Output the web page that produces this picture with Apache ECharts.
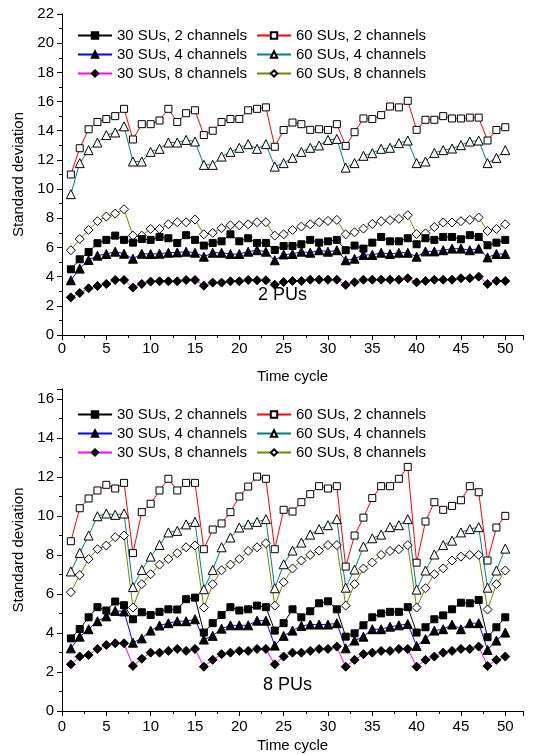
<!DOCTYPE html>
<html>
<head>
<meta charset="utf-8">
<script src="https://cdn.jsdelivr.net/npm/echarts@6/dist/echarts.min.js"></script>
<style>
  html, body { margin: 0; padding: 0; background: #fff; }
  #chart { width: 534px; height: 754px; }
</style>
</head>
<body>
<div id="chart"></div>
<script>
// time cycles on the x axis
const cycles = [1, 2, 3, 4, 5, 6, 7, 8, 9, 10, 11, 12, 13, 14, 15, 16, 17, 18, 19, 20,
  21, 22, 23, 24, 25, 26, 27, 28, 29, 30, 31, 32, 33, 34, 35, 36, 37, 38, 39, 40,
  41, 42, 43, 44, 45, 46, 47, 48, 49, 50]

// 2 PUs (upper panel)
const su30ch2_2pu = [4.5, 5.19, 5.69, 6.29, 6.52, 6.81, 6.52, 6.33, 6.58, 6.52,
  6.72, 6.63, 6.31, 6.84, 6.52, 6.13, 6.31, 6.42, 6.9, 6.42,
  6.63, 6.31, 6.31, 5.83, 6.1, 6.1, 6.22, 6.52, 6.33, 6.42,
  6.52, 5.81, 6.13, 5.92, 6.33, 6.72, 6.42, 6.42, 6.63, 6.22,
  6.63, 6.52, 6.72, 6.72, 6.56, 6.84, 6.72, 6.15, 6.33, 6.52]
const su30ch4_2pu = [3.75, 4.55, 5.14, 5.44, 5.55, 5.71, 5.57, 5.23, 5.57, 5.55,
  5.57, 5.64, 5.66, 5.71, 5.64, 5.37, 5.64, 5.64, 5.55, 5.55,
  5.71, 5.81, 5.71, 5.12, 5.52, 5.55, 5.71, 5.64, 5.81, 5.71,
  5.81, 5.12, 5.23, 5.49, 5.49, 5.64, 5.55, 5.64, 5.64, 5.37,
  5.73, 5.73, 5.81, 5.92, 5.92, 5.81, 5.92, 5.32, 5.55, 5.55]
const su30ch8_2pu = [2.58, 2.88, 3.2, 3.36, 3.5, 3.77, 3.77, 3.25, 3.5, 3.66,
  3.68, 3.68, 3.68, 3.77, 3.77, 3.38, 3.59, 3.59, 3.68, 3.68,
  3.77, 3.75, 3.75, 3.45, 3.63, 3.7, 3.7, 3.79, 3.79, 3.79,
  3.79, 3.43, 3.61, 3.79, 3.79, 3.79, 3.79, 3.79, 3.89, 3.61,
  3.7, 3.79, 3.79, 3.79, 3.89, 3.89, 4.0, 3.5, 3.7, 3.7]
const su60ch2_2pu = [11.0, 12.8, 14.1, 14.6, 14.8, 15.0, 15.5, 13.4, 14.45, 14.45,
  14.7, 15.5, 14.6, 15.2, 15.4, 13.7, 14.0, 14.6, 14.8, 14.8,
  15.4, 15.5, 15.6, 12.9, 14.05, 14.56, 14.45, 14.06, 14.1, 14.06,
  14.45, 12.96, 13.9, 14.84, 14.8, 15.07, 15.66, 15.6, 16.05, 14.06,
  14.75, 14.75, 15.0, 14.84, 14.84, 14.9, 14.9, 13.33, 14.05, 14.24]
const su60ch4_2pu = [9.65, 11.78, 12.67, 13.19, 13.7, 13.88, 14.3, 11.89, 11.89, 12.55,
  12.76, 13.19, 13.19, 13.37, 13.26, 11.66, 11.66, 12.23, 12.55, 12.83,
  13.08, 12.76, 13.08, 11.54, 11.78, 12.14, 12.55, 12.83, 12.99, 13.37,
  13.44, 11.47, 11.78, 12.28, 12.46, 12.76, 12.83, 13.15, 13.33, 11.78,
  11.89, 12.48, 12.67, 12.78, 13.01, 13.26, 13.33, 11.78, 12.14, 12.67]
const su60ch8_2pu = [5.81, 6.58, 7.2, 7.8, 8.12, 8.32, 8.62, 6.81, 6.81, 7.27,
  7.27, 7.59, 7.73, 7.73, 7.91, 6.9, 7.0, 7.32, 7.52, 7.52,
  7.59, 7.73, 7.73, 6.81, 6.9, 7.2, 7.43, 7.59, 7.73, 7.82,
  7.89, 6.9, 7.04, 7.29, 7.61, 7.8, 7.87, 7.96, 8.21, 6.92,
  6.97, 7.4, 7.71, 7.71, 7.8, 7.89, 8.05, 7.13, 7.27, 7.59]

// 8 PUs (lower panel)
const su30ch2_8pu = [3.72, 4.2, 4.8, 5.32, 5.15, 5.61, 5.42, 4.7, 5.06, 4.92,
  5.08, 5.21, 5.2, 5.73, 5.81, 4.02, 4.5, 4.92, 5.32, 5.15,
  5.21, 5.4, 5.32, 4.12, 4.5, 5.21, 4.8, 5.11, 5.52, 5.62,
  5.21, 3.81, 3.98, 4.39, 4.8, 5.0, 5.08, 5.08, 5.32, 4.02,
  4.29, 4.7, 4.9, 5.21, 5.55, 5.52, 5.69, 3.78, 4.29, 4.8]
const su30ch4_8pu = [3.21, 3.81, 4.19, 4.6, 4.85, 5.13, 5.1, 3.5, 3.72, 4.12,
  4.38, 4.5, 4.6, 4.6, 4.7, 3.66, 3.85, 4.22, 4.39, 4.39,
  4.39, 4.63, 4.63, 3.35, 3.85, 4.12, 4.36, 4.43, 4.43, 4.43,
  4.5, 3.21, 3.61, 3.81, 4.19, 4.19, 4.32, 4.39, 4.46, 3.33,
  3.69, 4.12, 4.19, 4.43, 4.19, 4.5, 4.5, 3.13, 3.61, 4.02]
const su30ch8_8pu = [2.39, 2.79, 2.87, 3.18, 3.38, 3.47, 3.47, 2.31, 2.68, 2.99,
  2.99, 3.08, 3.18, 3.08, 3.18, 2.27, 2.62, 2.91, 2.99, 3.08,
  3.08, 3.18, 3.18, 2.39, 2.79, 2.99, 2.99, 3.08, 3.18, 3.18,
  3.3, 2.27, 2.62, 2.91, 2.99, 3.08, 3.08, 3.18, 3.18, 2.27,
  2.62, 2.79, 2.99, 3.08, 3.18, 3.18, 3.3, 2.31, 2.62, 2.79]
const su60ch2_8pu = [8.7, 10.39, 10.89, 11.3, 11.59, 11.4, 11.69, 8.09, 10.19, 10.62,
  11.3, 11.9, 11.3, 11.69, 11.69, 8.29, 9.3, 9.61, 10.19, 10.99,
  11.5, 12.01, 11.9, 8.29, 10.31, 10.22, 10.7, 11.11, 11.52, 11.4,
  11.52, 7.4, 8.99, 9.91, 10.91, 11.52, 11.52, 11.9, 12.51, 7.6,
  9.71, 10.7, 10.31, 10.51, 10.8, 11.52, 11.21, 7.71, 9.4, 10.0]
const su60ch4_8pu = [7.15, 8.1, 8.99, 9.98, 10.12, 10.05, 10.12, 6.35, 7.23, 7.91,
  8.51, 9.15, 9.23, 9.56, 9.69, 6.24, 7.23, 8.39, 8.89, 9.4,
  9.56, 9.69, 9.83, 6.29, 7.52, 8.22, 8.63, 9.04, 9.32, 9.52,
  9.83, 6.32, 7.25, 8.43, 8.85, 9.04, 9.42, 9.52, 9.83, 6.22,
  7.2, 8.02, 8.5, 8.73, 9.15, 9.32, 9.42, 6.32, 7.2, 8.32]
const su60ch8_8pu = [6.09, 6.97, 7.79, 8.29, 8.48, 8.91, 8.99, 5.3, 6.5, 7.01,
  7.5, 7.79, 8.09, 8.39, 8.48, 5.3, 6.5, 7.21, 7.5, 7.79,
  8.2, 8.39, 8.6, 5.4, 6.6, 7.3, 7.71, 8.0, 8.22, 8.5,
  8.5, 5.4, 6.5, 7.3, 7.61, 8.0, 8.2, 8.29, 8.5, 5.3,
  6.29, 7.01, 7.31, 7.71, 7.91, 8.0, 8.0, 5.2, 6.5, 7.2]

const names = ['30 SUs, 2 channels', '60 SUs, 2 channels', '30 SUs, 4 channels',
  '60 SUs, 4 channels', '30 SUs, 8 channels', '60 SUs, 8 channels']

const FONT = 'Liberation Sans, Arial, sans-serif'

// marker / line look of each curve, same order as names
const looks = [
  { symbol: 'rect', size: 7, fill: '#000', line: '#000' },
  { symbol: 'rect', size: 7, fill: '#fff', line: '#ff0000' },
  { symbol: 'triangle', size: 9, fill: '#000', line: '#0000ff' },
  { symbol: 'triangle', size: 9, fill: '#fff', line: '#008080' },
  { symbol: 'diamond', size: 9, fill: '#000', line: '#ff00ff' },
  { symbol: 'diamond', size: 9, fill: '#fff', line: '#808000' }
]

function pairs(vals) {
  return cycles.map((c, i) => [c, vals[i]])
}

function makeSeries(values, axisIdx) {
  return values.map((vals, k) => ({
    name: names[k],
    type: 'line',
    xAxisIndex: axisIdx,
    yAxisIndex: axisIdx,
    data: pairs(vals),
    symbol: looks[k].symbol,
    symbolSize: looks[k].size,
    showAllSymbol: true,
    lineStyle: { color: looks[k].line, width: 1 },
    itemStyle: { color: looks[k].fill, borderColor: '#000', borderWidth: 1 },
    emphasis: { disabled: true },
    animation: false,
    z: k % 2 === 0 ? 3 : 2
  }))
}

const axisLineStyle = { show: true, lineStyle: { color: '#000', width: 1 } }

function xAxes(grid) {
  return [
    {
      type: 'value', gridIndex: grid, min: 0, max: 52, interval: 5,
      name: 'Time cycle', nameLocation: 'middle', nameGap: grid === 0 ? 34 : 27,
      nameTextStyle: { fontFamily: FONT, fontSize: 15, color: '#000' },
      axisLine: axisLineStyle,
      axisTick: { show: true, length: 5, lineStyle: { color: '#000' } },
      minorTick: { show: true, splitNumber: 2, length: 3, lineStyle: { color: '#000' } },
      axisLabel: { fontFamily: FONT, fontSize: 15, color: '#000', margin: grid === 0 ? 6 : 8, showMaxLabel: false },
      splitLine: { show: false }
    },
    {
      type: 'value', gridIndex: grid, position: 'top', min: 0, max: 52, interval: 5,
      axisLine: axisLineStyle,
      axisTick: { show: true, inside: true, length: 5, lineStyle: { color: '#000' } },
      minorTick: { show: true, splitNumber: 2, length: 3, lineStyle: { color: '#000' } },
      axisLabel: { show: false },
      splitLine: { show: false }
    }
  ]
}

function yAxes(grid, max) {
  return [
    {
      type: 'value', gridIndex: grid, min: 0, max: max, interval: 2,
      name: 'Standard deviation', nameLocation: 'middle', nameGap: 31,
      nameTextStyle: { fontFamily: FONT, fontSize: 15, color: '#000' },
      axisLine: axisLineStyle,
      axisTick: { show: true, length: 5, lineStyle: { color: '#000' } },
      minorTick: { show: true, splitNumber: 2, length: 3, lineStyle: { color: '#000' } },
      axisLabel: { fontFamily: FONT, fontSize: 15, color: '#000', margin: 8 },
      splitLine: { show: false }
    },
    {
      type: 'value', gridIndex: grid, position: 'right', min: 0, max: max, interval: 2,
      axisLine: axisLineStyle,
      axisTick: { show: true, inside: true, length: 5, lineStyle: { color: '#000' } },
      minorTick: { show: true, splitNumber: 2, length: 3, lineStyle: { color: '#000' } },
      axisLabel: { show: false },
      splitLine: { show: false }
    }
  ]
}

function legendCol(left, top, items) {
  return {
    left: left, top: top, orient: 'vertical',
    itemWidth: 34, itemHeight: 8, itemGap: 0,
    selectedMode: false,
    textStyle: { fontFamily: FONT, fontSize: 15, color: '#000', lineHeight: 19 },
    data: items
  }
}

const chart = echarts.init(document.getElementById('chart'), null, { renderer: 'canvas' })

const x0 = xAxes(0), x1 = xAxes(1), y0 = yAxes(0, 22), y1 = yAxes(1, 16.5)

const option = {
  backgroundColor: '#fff',
  animation: false,
  grid: [
    { left: 62, right: 11, top: 14, height: 321 },
    { left: 62, right: 11, top: 389, height: 322 }
  ],
  xAxis: [x0[0], x1[0], x0[1], x1[1]],
  yAxis: [y0[0], y1[0], y0[1], y1[1]],
  legend: [
    legendCol(72, 21, [names[0], names[2], names[4]]),
    legendCol(251, 21, [names[1], names[3], names[5]]),
    legendCol(72, 400, [names[0], names[2], names[4]]),
    legendCol(251, 400, [names[1], names[3], names[5]])
  ],
  graphic: [
    { type: 'text', left: 258, top: 286, style: { text: '2 PUs', font: '18px ' + FONT, fill: '#000' } },
    { type: 'text', left: 263, top: 676, style: { text: '8 PUs', font: '18px ' + FONT, fill: '#000' } }
  ],
  series: [
    ...makeSeries([su30ch2_2pu, su60ch2_2pu, su30ch4_2pu, su60ch4_2pu, su30ch8_2pu, su60ch8_2pu], 0),
    ...makeSeries([su30ch2_8pu, su60ch2_8pu, su30ch4_8pu, su60ch4_8pu, su30ch8_8pu, su60ch8_8pu], 1)
  ]
}

option && chart.setOption(option)
</script>
</body>
</html>
